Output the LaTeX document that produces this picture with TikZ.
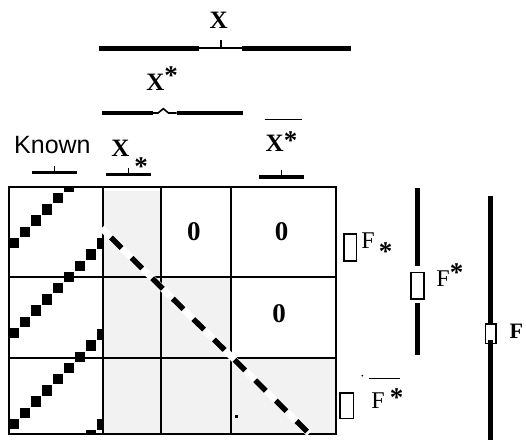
\documentclass[tikz,border=0pt]{standalone}
\usepackage{fontspec}
\setmainfont{Liberation Serif}
\setsansfont{Liberation Sans}
\usetikzlibrary{calc}

\tikzset{
  gridline/.style={line width=1.8pt},
  lightcell/.style={fill=black!5},
  barline/.style={line width=4.5pt},
  braceline/.style={line width=3.3pt},
  nibline/.style={line width=1.6pt},
  tagbox/.style={draw, line width=1.8pt, inner sep=0pt},
  lab/.style={inner sep=0pt, anchor=base west, font=\fontsize{24}{28}\selectfont},
  xlab/.style={lab, font=\fontsize{25}{28}\selectfont\bfseries},
  zero/.style={inner sep=0pt, anchor=base, font=\fontsize{27}{30}\selectfont\bfseries},
}
\newcommand{\tagstar}[1]{\raisebox{#1}{\fontsize{27}{27}\selectfont\bfseries *}}

\begin{document}
\begin{tikzpicture}[x=1pt,y=-1pt]
\useasboundingbox (0,0) rectangle (526,441);

% shaded cells
\fill[lightcell] (103.3,190.7) rectangle (161,434);
\fill[lightcell] (161,277.3) rectangle (230.7,434);
\fill[lightcell] (230.7,357.7) rectangle (336,434);

% hatching of the known column
\begin{scope}
\clip (9.3,186.7) rectangle (103.3,434);
\foreach \yy in {243,333,424,514}
  \foreach \k in {-1,...,9}
    \fill ({9+11*\k},{\yy-5.2-11.2*\k}) rectangle +(10.4,10.4);
\end{scope}

% grid
\draw[gridline] (9.3,186.7) rectangle (336,434);
\foreach \xx in {103.3,161,230.7}
  \draw[gridline] (\xx,186.7) -- (\xx,434);
\foreach \yy in {277.3,357.7}
  \draw[gridline] (9.3,\yy) -- (336,\yy);

\coordinate (diagA) at (101.7,228.3);
\coordinate (diagB) at (309,433.5);
\draw[white, line width=6.5pt] (diagA) -- (diagB);
\draw[line width=5.5pt, dash pattern=on 15pt off 14pt, dash phase=16pt] (diagA) -- (diagB);
\fill (235.2,414.5) rectangle +(3,3);

\node[zero] (zeroA) at (193.8,240) {0};
\node[zero] (zeroB) at (281.7,240) {0};
\node[zero] (zeroC) at (279.2,322.3) {0};

% column labels
\node[xlab] (labX) at (209.5,29) {X};
\node[xlab] (labXup) at (146.2,90.7) {X\tagstar{5.7pt}};
\node[xlab] (labXlow) at (111.2,156.7) {X\hspace{5pt}\tagstar{-18.3pt}};
\node[xlab] (labXbar) at (265.5,151.7) {X\tagstar{2.4pt}};
\node[lab, font=\sffamily\fontsize{25}{28}\selectfont] (known) at (14,153.3) {Known};
\draw[line width=1.5pt] ([xshift=-1pt,yshift=12pt]labXbar.north west) -- ([xshift=5pt,yshift=12pt]labXbar.north east);

% spans
\draw[barline] (99,48.3) -- (199,48.3);
\draw[nibline] (199,48.3) -- (242,48.3);
\draw[barline] (242,48.3) -- (350.7,48.3);
\draw[nibline] (220.7,48.3) -- (220.7,40.5);

\draw[barline] (101.7,113) -- (152.7,113);
\draw[nibline] (152.7,113) -- (158,113) -- (163.3,108.7) -- (168.5,113) -- (176.7,113);
\draw[barline] (176.7,113) -- (242.7,113);

\foreach \l/\r/\yy in {32.3/76.7/172.5, 106/150.7/174.5, 259.3/304/177}{
  \draw[braceline] (\l,\yy) -- (\r,\yy);
  \draw[nibline] ({(\l+\r)/2},\yy) -- ({(\l+\r)/2},\yy-7);
}

% row labels
\node[tagbox, minimum width=12.8pt, minimum height=26.6pt] (boxA) at (350,247.5) {};
\node[lab] (labFlow) at (361.2,248.3) {F\hspace{4pt}\tagstar{-11.7pt}};

\coordinate (midtop) at (417.5,188);
\coordinate (midbot) at (417.5,355);
\node[tagbox, minimum width=13.2pt, minimum height=26.5pt] (boxB) at (417.5,285.8) {};
\draw[barline] (midtop) -- ([yshift=6pt]boxB.north);
\draw[barline] ([yshift=-3pt]boxB.south) -- (midbot);
\node[lab] (labFup) at (436.2,286.7) {F\tagstar{5.7pt}};

\node[tagbox, minimum width=13.2pt, minimum height=25.8pt] (boxC) at (346.8,405.5) {};
\node[lab] (labFbar) at (371.2,408.3) {F\hspace{5pt}\tagstar{1.7pt}};
\draw[line width=1.5pt] (369.3,378.3) -- (400,378.3);
\fill (362.3,375.7) circle (0.9pt);

\coordinate (rtop) at (490.5,196);
\coordinate (rbot) at (490.5,440);
\node[tagbox, minimum width=10.2pt, minimum height=19.8pt] (boxD) at (490.5,333.5) {};
\draw[barline] (rtop) -- (boxD.north);
\draw[barline] ([yshift=4pt]boxD.south) -- (rbot);
\node[lab, font=\fontsize{22}{26}\selectfont\bfseries] (labF) at (509.5,338.3) {F};
\end{tikzpicture}
\end{document}
